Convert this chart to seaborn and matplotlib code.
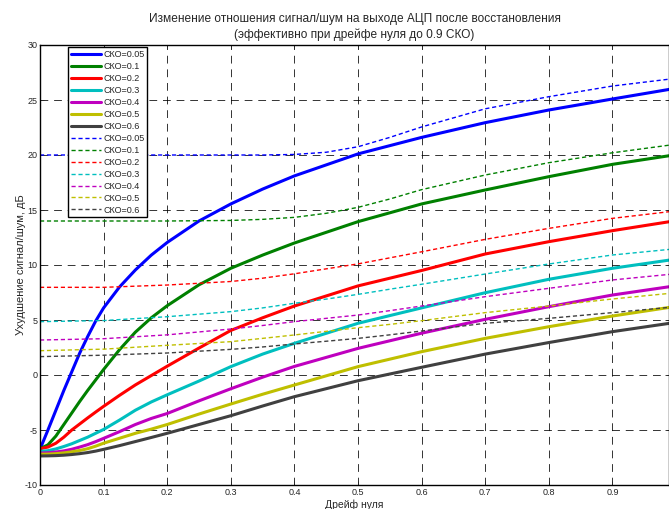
import numpy as np
import pandas as pd
import matplotlib
matplotlib.use("Agg")
import matplotlib.pyplot as plt
import seaborn as sns

# ---------------- data ----------------
labels = ["СКО=0.05", "СКО=0.1", "СКО=0.2", "СКО=0.3", "СКО=0.4", "СКО=0.5", "СКО=0.6"]
colors = [(0, 0, 1), (0, 0.5, 0), (1, 0, 0), (0, 0.75, 0.75),
          (0.75, 0, 0.75), (0.75, 0.75, 0), (0.25, 0.25, 0.25)]

x_solid = [0, 0.0125, 0.025, 0.0375, 0.05, 0.0625, 0.075, 0.0875, 0.1, 0.125,
           0.15, 0.175, 0.2, 0.25, 0.3, 0.35, 0.4, 0.5, 0.6, 0.7, 0.8, 0.9, 0.99]
solid_005 = [-6.75, -5.0, -3.2, -1.4, 0.3, 2.0, 3.5, 4.9, 6.1, 8.0,
             9.55, 10.9, 12.05, 14.0, 15.55, 16.9, 18.1, 20.1, 21.6, 22.94, 24.09, 25.09, 25.97]
solid_01 = [-6.7, -6.35, -5.55, -4.5, -3.45, -2.4, -1.4, -0.45, 0.5, 2.3,
            3.9, 5.2, 6.3, 8.2, 9.7, 10.9, 12.0, 13.94, 15.55, 16.82, 18.03, 19.15, 19.94]
solid_02 = [-6.7, -6.55, -6.2, -5.65, -5.0, -4.45, -3.9, -3.37, -2.85, -1.85,
            -0.9, -0.05, 0.8, 2.45, 4.05, 5.2, 6.27, 8.1, 9.5, 11.0, 12.12, 13.12, 13.94]
solid_03 = [-6.95, -6.88, -6.72, -6.5, -6.25, -5.95, -5.65, -5.3, -4.95, -4.1,
            -3.2, -2.45, -1.8, -0.55, 0.76, 1.9, 2.88, 4.7, 6.1, 7.48, 8.7, 9.7, 10.45]
solid_04 = [-7.1, -7.07, -7.0, -6.9, -6.75, -6.55, -6.33, -6.06, -5.76, -5.15,
            -4.5, -3.95, -3.5, -2.35, -1.25, -0.2, 0.78, 2.42, 3.8, 5.06, 6.21, 7.27, 8.03]
solid_05 = [-7.2, -7.19, -7.15, -7.08, -6.98, -6.86, -6.7, -6.47, -6.2, -5.75,
            -5.3, -4.92, -4.5, -3.55, -2.64, -1.75, -0.91, 0.76, 2.12, 3.33, 4.39, 5.36, 6.15]
solid_06 = [-7.36, -7.35, -7.33, -7.29, -7.23, -7.15, -7.05, -6.92, -6.76, -6.42,
            -6.05, -5.68, -5.3, -4.5, -3.7, -2.82, -1.97, -0.52, 0.7, 1.9, 2.95, 3.94, 4.7]

x_dash = [0, 0.1, 0.2, 0.3, 0.35, 0.4, 0.45, 0.5, 0.55, 0.6, 0.7, 0.8, 0.9, 0.99]
dash_005 = [20.0, 20.0, 20.0, 20.0, 20.0, 20.05, 20.25, 20.75, 21.6, 22.55, 24.2, 25.3, 26.27, 26.9]
dash_01 = [14.0, 14.0, 14.0, 14.05, 14.15, 14.33, 14.7, 15.24, 16.0, 16.85, 18.18, 19.3, 20.2, 20.9]
dash_02 = [7.97, 7.97, 8.18, 8.5, 8.8, 9.2, 9.65, 10.1, 10.65, 11.2, 12.33, 13.33, 14.24, 14.85]
dash_03 = [4.85, 4.95, 5.3, 5.76, 6.1, 6.52, 6.9, 7.33, 7.8, 8.25, 9.18, 10.09, 10.91, 11.42]
dash_04 = [3.18, 3.3, 3.65, 4.18, 4.5, 4.85, 5.15, 5.45, 5.85, 6.27, 7.12, 7.88, 8.64, 9.15]
dash_05 = [2.21, 2.35, 2.7, 3.03, 3.33, 3.64, 3.97, 4.3, 4.6, 4.94, 5.67, 6.27, 6.91, 7.42]
dash_06 = [1.67, 1.8, 2.0, 2.33, 2.55, 2.82, 3.07, 3.33, 3.65, 4.0, 4.7, 5.15, 5.67, 6.15]

solid_series = [solid_005, solid_01, solid_02, solid_03, solid_04, solid_05, solid_06]
dash_series = [dash_005, dash_01, dash_02, dash_03, dash_04, dash_05, dash_06]

x_ticks = [0, 0.1, 0.2, 0.3, 0.4, 0.5, 0.6, 0.7, 0.8, 0.9]
x_ticklabels = ["0", "0.1", "0.2", "0.3", "0.4", "0.5", "0.6", "0.7", "0.8", "0.9"]
y_ticks = [-10, -5, 0, 5, 10, 15, 20, 25, 30]

title = "Изменение отношения сигнал/шум на выходе АЦП после восстановления\n(эффективно при дрейфе нуля до 0.9 СКО)"
xlabel = "Дрейф нуля"
ylabel = "Ухудшение сигнал/шум, дБ"

# ---------------- plot ----------------
sns.set_style("ticks")
plt.rcParams['font.family'] = ['Liberation Sans', 'DejaVu Sans']
plt.rcParams['axes.unicode_minus'] = False

fig = plt.figure(figsize=(6.69, 5.09), dpi=100)
ax = fig.add_axes([40 / 669, 24 / 509, 629 / 669, 440 / 509])

for lab, col, ys in zip(labels, colors, solid_series):
    sns.lineplot(x=x_solid, y=ys, ax=ax, color=col, linewidth=2.2,
                 label=lab, sort=False)
for lab, col, ys in zip(labels, colors, dash_series):
    sns.lineplot(x=x_dash, y=ys, ax=ax, color=col, linewidth=1.0,
                 linestyle=(0, (3, 2)), label=lab, sort=False)

ax.set_xlim(0, 629 / 636)
ax.set_ylim(-10, 30)
ax.set_xticks(x_ticks)
ax.set_xticklabels(x_ticklabels)
ax.set_yticks(y_ticks)
ax.tick_params(direction='in', length=3, width=0.6, labelsize=6.5, pad=2,
               top=True, right=True)
for s in ax.spines.values():
    s.set_linewidth(1.0)
    s.set_color('black')

ax.grid(True, color='black', linestyle=(0, (8, 6)), linewidth=0.7, alpha=0.8)
ax.set_axisbelow(True)

ax.set_title(title, fontsize=8.6, pad=5, linespacing=1.35)
ax.set_xlabel(xlabel, fontsize=7.5, labelpad=2)
ax.set_ylabel(ylabel, fontsize=8, labelpad=-1)

leg = ax.legend(loc='upper left', bbox_to_anchor=(0.045, 0.995), fontsize=6.5,
                frameon=True, fancybox=False, edgecolor='black', framealpha=1,
                handlelength=3.3, handletextpad=0.3, labelspacing=0.33,
                borderpad=0.3, borderaxespad=0)
leg.get_frame().set_linewidth(1.0)

fig.savefig("out.png", dpi=100)
